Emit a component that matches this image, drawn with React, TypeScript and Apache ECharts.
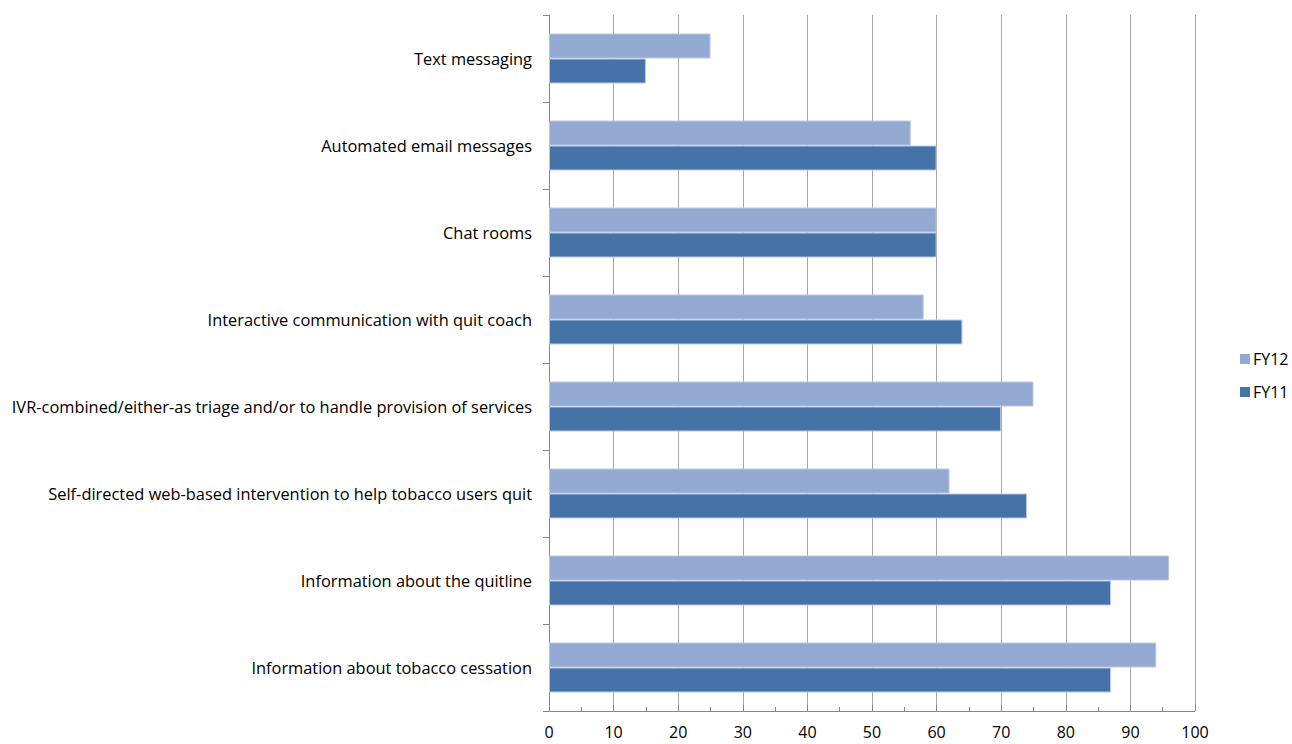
import React, { useEffect, useRef } from "react";
import * as echarts from "echarts";

const categories = [
  "Text messaging",
  "Automated email messages",
  "Chat rooms",
  "Interactive communication with quit coach",
  "IVR-combined/either-as triage and/or to handle provision of services",
  "Self-directed web-based intervention to help tobacco users quit",
  "Information about the quitline",
  "Information about tobacco cessation",
];
const fy12 = [25, 56, 60, 58, 75, 62, 96, 94];
const fy11 = [15, 60, 60, 64, 70, 74, 87, 87];
const xTicks = { min: 0, max: 100, interval: 10 };

export default function App() {
  const ref = useRef<HTMLDivElement>(null);
  useEffect(() => {
    if (!ref.current) return;
    const chart = echarts.init(ref.current, null, { renderer: "svg" });
    const font = "'Open Sans', sans-serif";
    chart.setOption({
      animation: false,
      textStyle: { fontFamily: font },
      grid: { left: 549, right: 97, top: 15, bottom: 33 },
      legend: {
        orient: "vertical",
        left: 1235,
        top: 346,
        itemWidth: 10,
        itemHeight: 10,
        itemGap: 17,
        icon: "rect",
        itemStyle: { borderWidth: 0 },
        textStyle: { fontSize: 16, color: "#000", fontFamily: font, padding: [0, 0, 0, -2] },
        data: ["FY12", "FY11"],
      },
      xAxis: {
        type: "value",
        min: xTicks.min,
        max: xTicks.max,
        interval: xTicks.interval,
        axisLine: { show: true, lineStyle: { color: "#868686" } },
        axisTick: { show: true, inside: true, length: 6, lineStyle: { color: "#868686" } },
        minorTick: { show: true, splitNumber: 2, length: 4, lineStyle: { color: "#868686" } },
        splitLine: { show: true, lineStyle: { color: "#A6A6A6", width: 1 } },
        axisLabel: { color: "#000", fontSize: 16, margin: 13, fontFamily: font },
      },
      yAxis: {
        type: "category",
        inverse: true,
        data: categories,
        axisLine: { show: true, lineStyle: { color: "#868686" } },
        axisTick: { show: true, length: 6, lineStyle: { color: "#868686" } },
        axisLabel: { color: "#000", fontSize: 16.4, margin: 17, fontFamily: font },
      },
      series: [
        {
          name: "FY12",
          type: "bar",
          data: fy12,
          barWidth: 25,
          barGap: "0%",
          itemStyle: { color: "#94A9D1", borderColor: "#B9C8E4", borderWidth: 1 },
        },
        {
          name: "FY11",
          type: "bar",
          data: fy11,
          barWidth: 25,
          barGap: "0%",
          itemStyle: { color: "#4572A7", borderColor: "#B9C8E4", borderWidth: 1 },
        },
      ],
    });
    return () => chart.dispose();
  }, []);
  return (
    <div
      ref={ref}
      style={{ position: "absolute", left: 0, top: 0, width: 1292, height: 744 }}
    />
  );
}
